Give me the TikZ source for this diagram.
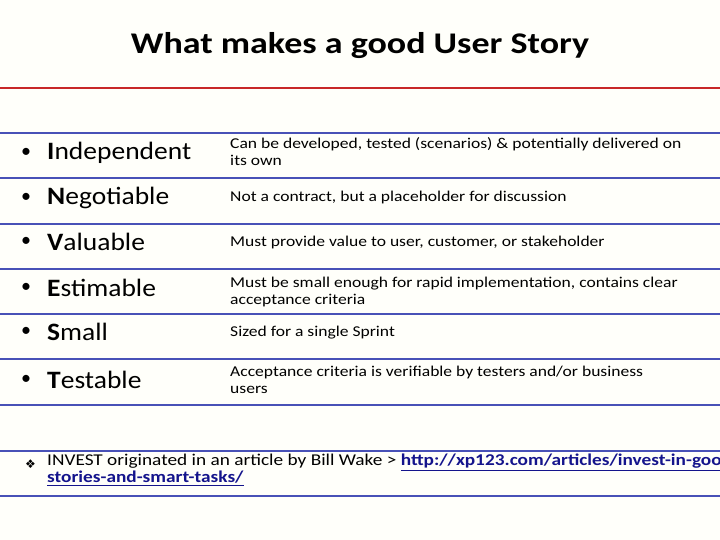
\documentclass[tikz,border=0pt]{standalone}
\usepackage{fontspec}
\setmainfont{Carlito}
\newfontfamily\djv{DejaVu Sans}
\definecolor{lineblue}{RGB}{40,50,170}
\definecolor{linered}{RGB}{200,40,40}
\definecolor{linkblue}{RGB}{20,20,140}
\begin{document}
\begin{tikzpicture}[x=1pt,y=-1pt,
  lft/.style={anchor=west,font=\fontsize{25}{26}\selectfont,inner sep=0pt,xscale=1.1},
  bul/.style={anchor=west,font=\fontsize{20}{22}\selectfont,inner sep=0pt},
  rgt/.style={anchor=west,align=left,font=\fontsize{15}{17}\selectfont,inner sep=0pt,xscale=1.17},
  sep/.style={draw=lineblue!85,line width=1.6pt}]
\fill[white!98!yellow] (0,0) rectangle (720,540);
\useasboundingbox (0,0) rectangle (720,540);
\node[font=\bfseries\fontsize{30}{32}\selectfont,xscale=1.2] (title) at (360,46) {What makes a good User Story};
\draw[linered,line width=1.8pt] (0,88) -- (720,88);
\foreach \y in {133,178,224,269,314,359,405,451,496}{\draw[sep] (0,\y) -- (720,\y);}
\foreach \y/\f/\t [count=\i] in {153/I/ndependent,198/N/egotiable,242/V/aluable,288/E/stimable,332/S/mall,380/T/estable}{
  \node[bul] (b\i) at (21,\y) {\textbullet};
  \node[lft] (l\i) at (47,\y) {\textbf{\f}\t};}
\node[rgt] (r1) at (230,152) {Can be developed, tested (scenarios) \& potentially delivered on\\its own};
\node[rgt] (r2) at (230,198) {Not a contract, but a placeholder for discussion};
\node[rgt] (r3) at (230,243) {Must provide value to user, customer, or stakeholder};
\node[rgt] (r4) at (230,292) {Must be small enough for rapid implementation, contains clear\\acceptance criteria};
\node[rgt] (r5) at (230,333) {Sized for a single Sprint};
\node[rgt] (r6) at (230,380) {Acceptance criteria is verifiable by testers and/or business\\users};
\node[anchor=west,inner sep=0pt,font=\djv\fontsize{12}{14}\selectfont] (dia) at (25,464) {❖};
\node[rgt,anchor=north west,font=\fontsize{16.5}{17}\selectfont,xscale=1.0] (foot) at (47,454) {INVEST originated in an article by Bill Wake > {\color{linkblue}\underline{\textbf{http://xp123.com/articles/invest-in-good-}}}\\{\color{linkblue}\underline{\textbf{stories-and-smart-tasks/}}}};
\end{tikzpicture}
\end{document}
